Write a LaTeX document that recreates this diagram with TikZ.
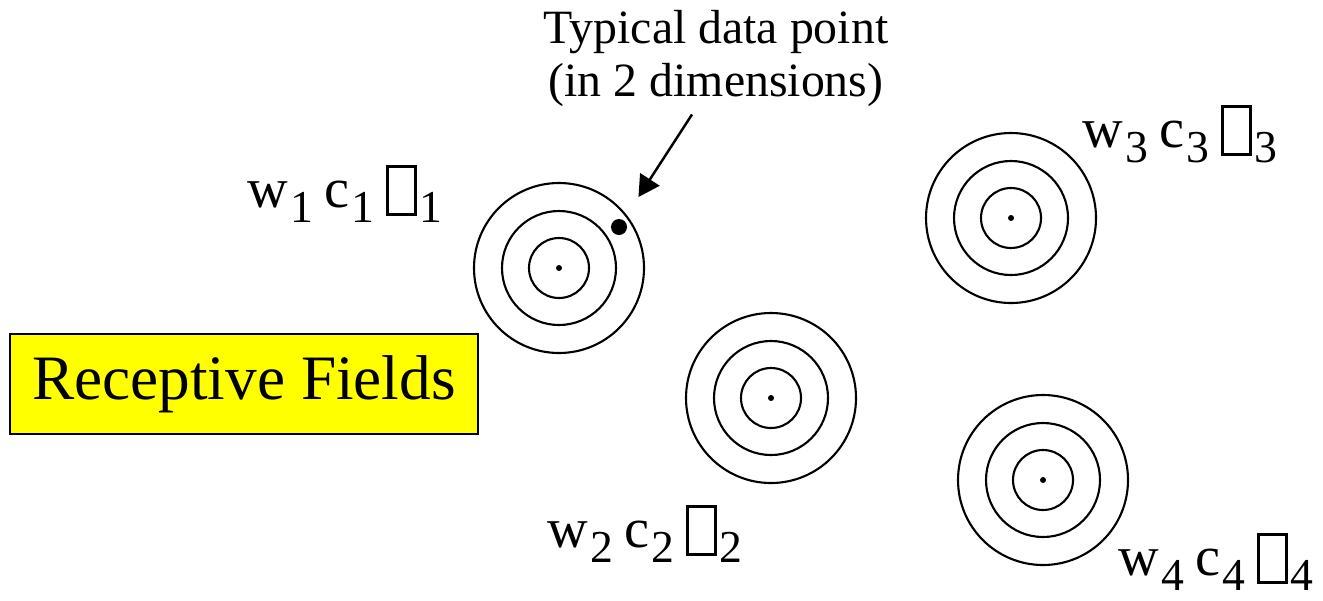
\documentclass[tikz,border=0pt]{standalone}
\usepackage{fontspec}
\setmainfont{Liberation Serif}
\usetikzlibrary{arrows.meta}
\definecolor{fieldyellow}{RGB}{255,255,0}

% missing glyph box and lowered index, as printed in the labels
\newcommand{\nog}{\raisebox{-1.7pt}{\setlength{\fboxsep}{0pt}\setlength{\fboxrule}{0.85pt}\fbox{\rule{0pt}{12.8pt}\rule{7.1pt}{0pt}}}}
\newcommand{\ix}[1]{\kern0.04em\raisebox{-0.27em}{\fontsize{13}{15}\selectfont #1}}
\newcommand{\wcs}[1]{w\ix{#1}\kern-0.05em{} c\ix{#1}\kern-0.05em{} \nog\ix{#1}}

\begin{document}
\begin{tikzpicture}[x=1cm,y=-1cm]
  \tikzstyle{every node}=[inner sep=0pt]
  \tikzstyle{ring}=[draw,circle,line width=0.6pt]
  \tikzstyle{centre}=[fill,circle,minimum size=0.06cm]
  \tikzstyle{param}=[anchor=base west,font=\fontsize{16}{18}\selectfont]

  \useasboundingbox (0,0) rectangle (13.23,6.00);

  % receptive fields
  \foreach \name/\pos in {f1/{5.59,2.68}, f2/{7.71,3.98}, f3/{10.11,2.18}, f4/{10.43,4.80}} {
    \node[ring,minimum size=1.70cm] (\name) at (\pos) {};
    \node[ring,minimum size=1.14cm] at (\pos) {};
    \node[ring,minimum size=0.60cm] at (\pos) {};
    \node[centre] (\name c) at (\pos) {};
  }

  \node[param] (l1) at (2.47,2.07) {\wcs{1}};
  \node[param] (l2) at (5.47,5.47) {\wcs{2}};
  \node[param] (l3) at (10.82,1.47) {\wcs{3}};
  \node[param] (l4) at (11.18,5.75) {\wcs{4}};

  % data point
  \node[fill,circle,minimum size=0.16cm] (pt) at (6.19,2.27) {};
  \node[anchor=north,align=center,font=\fontsize{13.6}{15}\selectfont] (note) at (7.16,0.10)
    {Typical data point\\(in 2 dimensions)};
  \draw[line width=0.7pt,-{Triangle[length=6pt,width=6.5pt]},shorten >=0.27cm]
    ([xshift=-0.24cm,yshift=-0.07cm]note.south) -- (pt);

  \node[draw,line width=0.8pt,fill=fieldyellow,minimum width=4.68cm,minimum height=1.00cm,
    font=\fontsize{18}{20}\selectfont] (rf) at (2.44,3.84) {Receptive Fields};
\end{tikzpicture}
\end{document}
